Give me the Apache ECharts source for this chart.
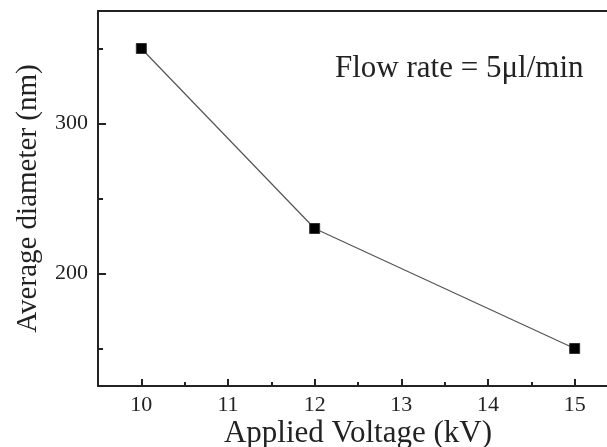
<!DOCTYPE html>
<html>
<head>
<meta charset="utf-8">
<script src="https://cdn.jsdelivr.net/npm/echarts@6/dist/echarts.min.js"></script>
<style>
html,body{margin:0;padding:0;background:#fff;}
#c{width:607px;height:447px;}
</style>
</head>
<body>
<div id="c"></div>
<script>
var voltage = [10, 12, 15];
var diameter = [350, 230, 150];
var xMajorTicks = [10, 11, 12, 13, 14, 15];
var xMinorTicks = [10.5, 11.5, 12.5, 13.5, 14.5];
var yMajorTicks = [200, 300];
var yMinorTicks = [150, 250, 350];
var xTitle = 'Applied Voltage (kV)';
var yTitle = 'Average diameter (nm)';
var note = 'Flow rate = 5\u03bcl/min';

var FONT = '"Liberation Serif", "DejaVu Serif", serif';
var AX = '#222';
var chart = echarts.init(document.getElementById('c'), null, {renderer: 'canvas'});
var pts = voltage.map(function (v, i) { return [v, diameter[i]]; });

chart.setOption({
  animation: false,
  backgroundColor: '#fff',
  grid: {left: 98, top: 11, width: 520, bottom: 61, containLabel: false, outerBoundsMode: 'none'},
  xAxis: [
    {
      type: 'value', min: 9.5, max: 15.5, position: 'bottom',
      name: xTitle, nameLocation: 'middle', nameGap: 32, nameMoveOverlap: false,
      nameTextStyle: {fontFamily: FONT, fontSize: 31, color: AX},
      axisLine: {show: true, lineStyle: {color: AX, width: 2}},
      axisTick: {show: true, inside: true, length: 7, lineStyle: {color: AX, width: 2}, customValues: xMajorTicks},
      axisLabel: {show: true, margin: 8, fontFamily: FONT, fontSize: 22, color: AX, customValues: xMajorTicks},
      splitLine: {show: false}
    },
    {
      type: 'value', min: 9.5, max: 15.5, position: 'bottom',
      axisLine: {show: false},
      axisTick: {show: true, inside: true, length: 4, lineStyle: {color: AX, width: 2}, customValues: xMinorTicks},
      axisLabel: {show: false},
      splitLine: {show: false}
    },
    {
      type: 'value', min: 9.5, max: 15.5, position: 'top',
      axisLine: {show: true, lineStyle: {color: AX, width: 2}},
      axisTick: {show: false}, axisLabel: {show: false}, splitLine: {show: false}
    }
  ],
  yAxis: [
    {
      type: 'value', min: 125, max: 375, position: 'left',
      name: yTitle, nameLocation: 'middle', nameGap: 55, nameRotate: 90, nameMoveOverlap: false,
      nameTextStyle: {fontFamily: FONT, fontSize: 29, color: AX},
      axisLine: {show: true, lineStyle: {color: AX, width: 2}},
      axisTick: {show: true, inside: true, length: 8, lineStyle: {color: AX, width: 2}, customValues: yMajorTicks},
      axisLabel: {show: true, margin: 10, fontFamily: FONT, fontSize: 22, color: AX, customValues: yMajorTicks},
      splitLine: {show: false}
    },
    {
      type: 'value', min: 125, max: 375, position: 'left',
      axisLine: {show: false},
      axisTick: {show: true, inside: true, length: 5, lineStyle: {color: AX, width: 2}, customValues: yMinorTicks},
      axisLabel: {show: false},
      splitLine: {show: false}
    }
  ],
  series: [{
    type: 'line',
    xAxisIndex: 0, yAxisIndex: 0,
    data: pts,
    symbol: 'rect', symbolSize: 10,
    itemStyle: {color: '#000', borderColor: '#333', borderWidth: 1},
    lineStyle: {color: '#555', width: 1.2},
    z: 3
  }],
  graphic: [{
    type: 'text', left: 335, top: 53,
    style: {text: note, fontFamily: FONT, fontSize: 31, fill: AX}
  }]
});
</script>
</body>
</html>
